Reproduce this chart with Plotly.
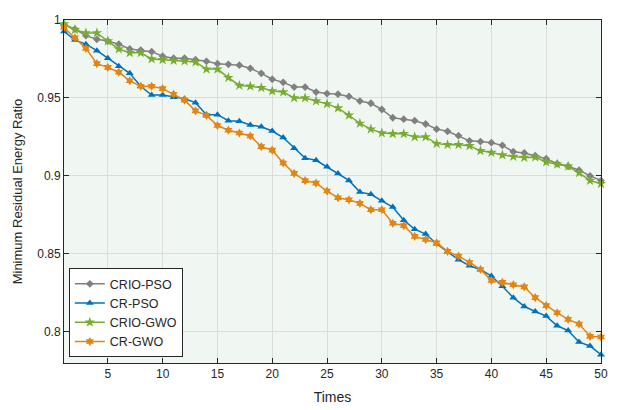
import plotly.graph_objects as go

times = list(range(1, 51))

crio_pso = [0.9969, 0.9942, 0.9900, 0.9876, 0.9865, 0.9845, 0.9814, 0.9807, 0.9797, 0.9768,
            0.9755, 0.9755, 0.9745, 0.9735, 0.9720, 0.9716, 0.9710, 0.9690, 0.9658, 0.9620,
            0.9600, 0.9570, 0.9570, 0.9538, 0.9528, 0.9524, 0.9510, 0.9480, 0.9466, 0.9426,
            0.9373, 0.9364, 0.9354, 0.9333, 0.9300, 0.9286, 0.9258, 0.9225, 0.9220, 0.9213,
            0.9196, 0.9155, 0.9147, 0.9130, 0.9110, 0.9078, 0.9062, 0.9037, 0.9000, 0.8970]

cr_pso = [0.9927, 0.9871, 0.9845, 0.9803, 0.9755, 0.9704, 0.9658, 0.9575, 0.9519, 0.9519,
          0.9505, 0.9495, 0.9470, 0.9392, 0.9393, 0.9354, 0.9350, 0.9327, 0.9315, 0.9288,
          0.9246, 0.9178, 0.9114, 0.9100, 0.9058, 0.9015, 0.8971, 0.8896, 0.8882, 0.8840,
          0.8800, 0.8716, 0.8658, 0.8627, 0.8565, 0.8513, 0.8463, 0.8424, 0.8400, 0.8358,
          0.8292, 0.8219, 0.8163, 0.8130, 0.8101, 0.8039, 0.8008, 0.7934, 0.7909, 0.7853]

crio_gwo = [0.9975, 0.9938, 0.9917, 0.9917, 0.9865, 0.9814, 0.9790, 0.9790, 0.9750, 0.9745,
            0.9740, 0.9737, 0.9730, 0.9685, 0.9685, 0.9630, 0.9580, 0.9575, 0.9565, 0.9544,
            0.9538, 0.9500, 0.9500, 0.9480, 0.9462, 0.9435, 0.9389, 0.9337, 0.9300, 0.9275,
            0.9270, 0.9270, 0.9250, 0.9250, 0.9207, 0.9200, 0.9200, 0.9193, 0.9161, 0.9150,
            0.9134, 0.9124, 0.9118, 0.9120, 0.9089, 0.9075, 0.9062, 0.9020, 0.8970, 0.8950]

cr_gwo = [0.9952, 0.9886, 0.9818, 0.9720, 0.9696, 0.9665, 0.9610, 0.9575, 0.9575, 0.9560,
          0.9524, 0.9486, 0.9417, 0.9388, 0.9323, 0.9293, 0.9275, 0.9256, 0.9188, 0.9165,
          0.9083, 0.9016, 0.8970, 0.8954, 0.8903, 0.8860, 0.8847, 0.8824, 0.8783, 0.8783,
          0.8696, 0.8681, 0.8612, 0.8592, 0.8571, 0.8516, 0.8486, 0.8445, 0.8400, 0.8329,
          0.8317, 0.8302, 0.8288, 0.8219, 0.8168, 0.8122, 0.8080, 0.8050, 0.7971, 0.7967]

x_ticks = [5, 10, 15, 20, 25, 30, 35, 40, 45, 50]
y_ticks = [0.8, 0.85, 0.9, 0.95, 1.0]
y_tick_labels = ["0.8", "0.85", "0.9", "0.95", "1"]

series = [
    ("CRIO-PSO", crio_pso, "rgb(128,128,128)", "diamond", 6),
    ("CR-PSO", cr_pso, "rgb(0,114,189)", "triangle-up", 7),
    ("CRIO-GWO", crio_gwo, "rgb(119,172,48)", "star", 8),
    ("CR-GWO", cr_gwo, "rgb(226,133,18)", "hexagram", 7),
]

fig = go.Figure()
for name, vals, color, sym, size in series:
    fig.add_trace(go.Scatter(
        x=times, y=vals, name=name, mode="lines+markers",
        line=dict(color=color, width=1.5),
        marker=dict(symbol=sym, size=size, color=color),
        cliponaxis=False,
    ))

axis_common = dict(
    showline=True, linecolor="#262626", linewidth=1, mirror="ticks",
    ticks="inside", ticklen=5, tickcolor="#262626",
    showgrid=True, gridcolor="#DCDCDC", gridwidth=1, zeroline=False,
    ticklabeloverflow="allow",
    tickfont=dict(family="Liberation Sans, Arial", size=12, color="#262626"),
)

fig.update_layout(
    width=623, height=402,
    margin=dict(l=56, r=30, t=5, b=47),
    paper_bgcolor="white",
    plot_bgcolor="rgb(240,246,242)",
    font=dict(family="Liberation Sans, Arial", color="#262626"),
    xaxis=dict(range=[1, 50], tickvals=x_ticks,
               title=dict(text="Times", font=dict(size=14), standoff=11), **axis_common),
    yaxis=dict(range=[0.78, 1.0], tickvals=y_ticks, ticktext=y_tick_labels,
               title=dict(text="Minimum Residual Energy Ratio", font=dict(size=13), standoff=11),
               **axis_common),
    legend=dict(x=0.009, y=0.017, xanchor="left", yanchor="bottom",
                bgcolor="white", bordercolor="#262626", borderwidth=1,
                font=dict(size=12.5, color="#262626"), tracegroupgap=0,
                itemwidth=30),
    showlegend=True,
)

fig.write_html("out.html")
